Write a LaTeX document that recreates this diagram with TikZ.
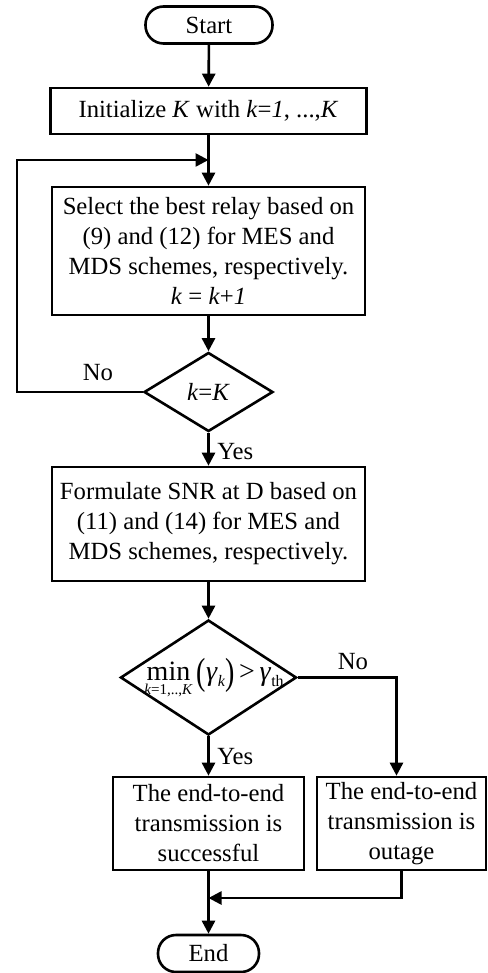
\documentclass[tikz,border=0pt]{standalone}
\usepackage{fontspec}
\usepackage{graphicx}
\setmainfont{Liberation Serif}
\usetikzlibrary{arrows.meta,shapes.geometric}
\newcommand\fs[1]{\fontsize{#1}{#1}\selectfont}
\newcommand\tallparen[1]{\raisebox{-4pt}{\scalebox{1}[1.35]{#1}}}

\begin{document}
\begin{tikzpicture}[x=1pt,y=-1pt,
  line width=2.6pt,
  every node/.style={font=\fontsize{24.7}{30}\selectfont, inner sep=0pt},
  box/.style={draw, rectangle, align=center},
  term/.style={draw, rectangle, rounded corners=18pt, minimum width=101pt, minimum height=37pt},
  decide/.style={draw, diamond},
  arr/.style={-{Triangle[length=13pt,width=13pt]}},
  lbl/.style={font=\fontsize{24.7}{30}\selectfont}
]
\useasboundingbox (0,0) rectangle (487,973);

% process column
\node[term, minimum width=127pt] (start) at (209,25) {Start};
\node[box, minimum width=316pt, minimum height=46pt] (init) at (208.5,111)
  {Initialize \textit{K} with \textit{k}=\textit{1}, ...,\textit{K}};
\node[box, minimum width=313pt, minimum height=128pt] (select) at (208.5,251)
  {Select the best relay based on\\(9) and (12) for MES and\\MDS schemes, respectively.\\\textit{k} = \textit{k}+\textit{1}};
\node[decide, minimum width=129pt, minimum height=79pt] (d1) at (208.5,392) {};
\node at (d1) {\textit{k}=\textit{K}};
\node[box, minimum width=313pt, minimum height=114pt] (form) at (208.5,524)
  {Formulate SNR at D based on\\(11) and (14) for MES and\\MDS schemes, respectively.};
\node[decide, minimum width=176pt, minimum height=115pt] (d2) at (208.5,677.5) {};
\node (cond) at (214,678)
  {$\mathop{\hbox{\fs{28}min}}\limits_{\hbox{\fs{15}\rule{0pt}{13pt}\textit{k}=1,..,\textit{K}}}
   \hbox{\fs{28}\tallparen{(}\textit{γ}\raisebox{-6pt}{\fs{16}\textit{k}}\tallparen{)}\,>\,\textit{γ}\raisebox{-6pt}{\fs{16}th}}$};
\node[box, minimum width=191pt, minimum height=93pt] (succ) at (208.5,823.5)
  {The end-to-end\\transmission is\\successful};
\node[box, minimum width=169pt, minimum height=93pt] (outage) at (401.5,823.5)
  {The end-to-end\\transmission is\\outage};
\node[term] (end) at (208.5,953.5) {End};

% helper points on the connectors
\coordinate (merge) at (208.5,160);
\coordinate (loopc) at (17,160);
\coordinate (join) at (208.5,898);

% connectors
\draw[arr] (start) -- (init);
\draw[arr] (init) -- (select);
\draw[arr] (select) -- (d1);
\draw[arr] (d1.west) -| (loopc) -- (merge);
\node[lbl] at (98,373) {No};
\draw[arr] (d1) -- (form);
\node[lbl, anchor=west] at (216,452) {Yes};
\draw[arr] (form) -- (d2);
\draw[arr] (d2) -- (succ);
\node[lbl, anchor=west] at (216,757) {Yes};
\draw[arr] (d2.east) -| ([xshift=-5pt]outage.north);
\node[lbl] at (353,662) {No};
\draw (outage.south) |- (join);
\draw[arr] ([xshift=-1pt]outage.south |- join) -- (join);
\draw[arr] (succ) -- (end);
\end{tikzpicture}
\end{document}
